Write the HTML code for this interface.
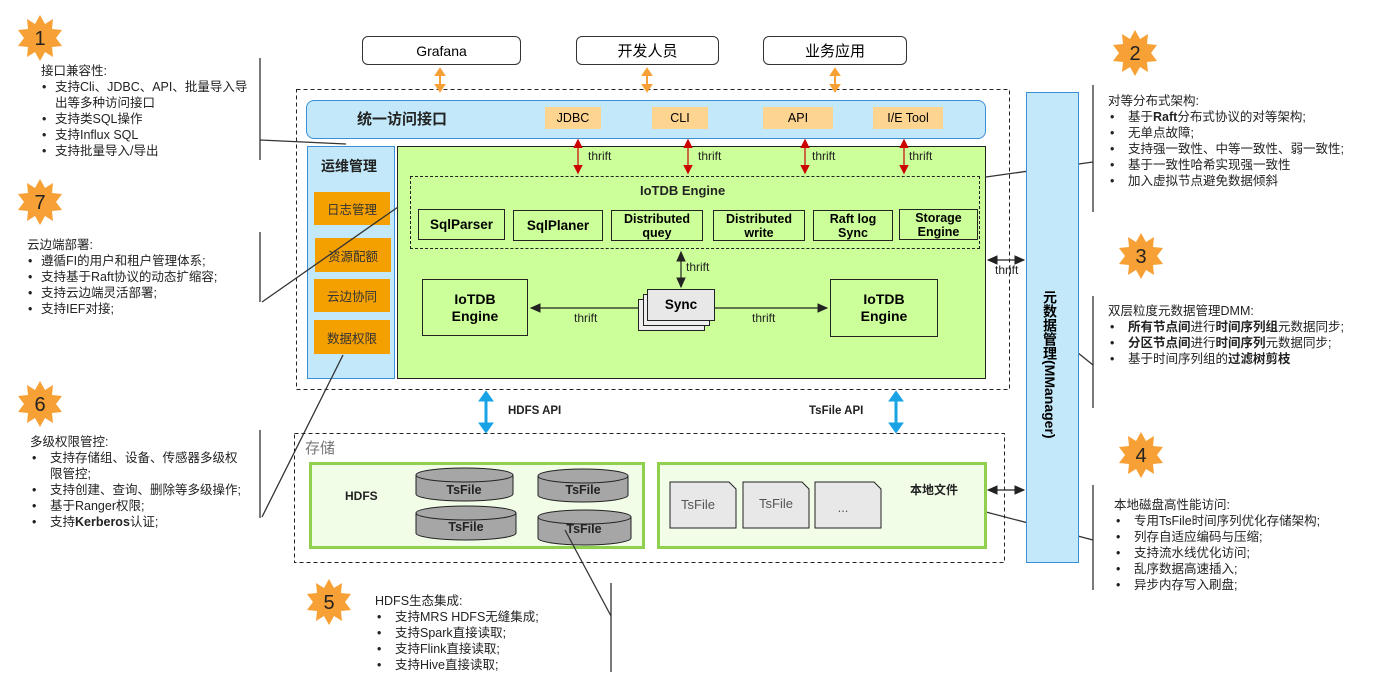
<!DOCTYPE html>
<html><head><meta charset="utf-8"><style>
body{margin:0;width:1381px;height:691px;background:#fff;position:relative;overflow:hidden;font-family:"Liberation Sans","Noto Sans CJK SC",sans-serif;}
.a{position:absolute;box-sizing:border-box;}
.c{display:flex;align-items:center;justify-content:center;text-align:center;}
.t{position:absolute;font-size:12.5px;line-height:16px;color:#222;white-space:nowrap;}
.t ul{margin:0;padding:0;list-style:none;}
.t li{position:relative;padding-left:20px;}
.t li:before{content:"•";position:absolute;left:2px;}
.L li{padding-left:14px;}
.L li:before{left:1px;}
.sb{border:1px solid #222;background:transparent;font-weight:bold;font-size:12.5px;line-height:14px;}
.or{background:#f4a000;color:#333;font-size:12.5px;}
.pe{background:#fdd591;font-size:12.5px;}
</style></head><body>
<svg class="a" style="left:0;top:0" width="1381" height="691">
<g fill="#f7a035">
<polygon id="st" points="0,-23 5,-14 13,-19 12,-9 22,-8 16,0 22,8 12,9 13,19 5,14 0,23 -5,14 -13,19 -12,9 -22,8 -16,0 -22,-8 -12,-9 -13,-19 -5,-14" transform="translate(40,38)"/>
<use href="#st" transform="translate(1095,15)"/>
<use href="#st" transform="translate(1101,218)"/>
<use href="#st" transform="translate(1101,417)"/>
<use href="#st" transform="translate(289,564)"/>
<use href="#st" transform="translate(0,366)"/>
<use href="#st" transform="translate(0,164)"/>
</g>
<g font-size="20" text-anchor="middle" fill="#222">
<text x="40" y="45">1</text><text x="1135" y="60">2</text><text x="1141" y="263">3</text><text x="1141" y="462">4</text><text x="329" y="609">5</text><text x="40" y="411">6</text><text x="40" y="209">7</text>
</g>
<rect x="296.5" y="89.5" width="713" height="300" fill="none" stroke="#222" stroke-dasharray="4,3"/>
<rect x="294.5" y="433.5" width="710" height="129" fill="none" stroke="#222" stroke-dasharray="4,3"/>
<g stroke="#f7a035" stroke-width="2" fill="#f7a035">
<line x1="440" y1="74" x2="440" y2="86"/><polygon points="436,75 444,75 440,69"/><polygon points="436,85 444,85 440,91"/>
<line x1="647" y1="74" x2="647" y2="86"/><polygon points="643,75 651,75 647,69"/><polygon points="643,85 651,85 647,91"/>
<line x1="835" y1="74" x2="835" y2="86"/><polygon points="831,75 839,75 835,69"/><polygon points="831,85 839,85 835,91"/>
</g>
<g stroke="#17a3e6" stroke-width="3" fill="#17a3e6">
<line x1="486" y1="400" x2="486" y2="424"/><polygon points="481,400 491,400 486,393"/><polygon points="481,424 491,424 486,431"/>
<line x1="896" y1="400" x2="896" y2="424"/><polygon points="891,400 901,400 896,393"/><polygon points="891,424 901,424 896,431"/>
</g>
<g stroke="#333" stroke-width="1.3" fill="none">
<line x1="260" y1="58" x2="260" y2="160"/>
<line x1="260" y1="232" x2="260" y2="302"/>
<line x1="260" y1="430" x2="260" y2="518"/>
<line x1="1093" y1="85" x2="1093" y2="212"/>
<line x1="1093" y1="296" x2="1093" y2="408"/>
<line x1="1093" y1="485" x2="1093" y2="590"/>
<line x1="611" y1="583" x2="611" y2="672"/>
<line x1="260" y1="140" x2="346" y2="144"/>
<line x1="986" y1="177" x2="1093" y2="162"/>
<line x1="1062" y1="340" x2="1093" y2="365"/>
<line x1="986" y1="512" x2="1093" y2="540"/>
</g>
</svg>
<div class="a c" style="left:362px;top:36px;width:159px;height:29px;border:1px solid #333;border-radius:6px;font-size:14px;">Grafana</div>
<div class="a c" style="left:576px;top:36px;width:143px;height:29px;border:1px solid #333;border-radius:6px;font-size:15px;">开发人员</div>
<div class="a c" style="left:763px;top:36px;width:144px;height:29px;border:1px solid #333;border-radius:6px;font-size:15px;">业务应用</div>
<div class="a" style="left:306px;top:100px;width:680px;height:39px;background:#c3e8f9;border:1px solid #3b8fd6;border-radius:8px;"></div>
<div class="t" style="left:357px;top:112px;font-size:15px;font-weight:bold;">统一访问接口</div>
<div class="a c pe" style="left:545px;top:107px;width:56px;height:22px;">JDBC</div>
<div class="a c pe" style="left:652px;top:107px;width:56px;height:22px;">CLI</div>
<div class="a c pe" style="left:763px;top:107px;width:70px;height:22px;">API</div>
<div class="a c pe" style="left:873px;top:107px;width:70px;height:22px;">I/E Tool</div>
<div class="a" style="left:307px;top:146px;width:88px;height:233px;background:#c3e8f9;border:1px solid #3b8fd6;"></div>
<div class="t" style="left:321px;top:158px;font-size:14px;font-weight:bold;">运维管理</div>
<div class="a c or" style="left:314px;top:192px;width:76px;height:33px;">日志管理</div>
<div class="a c or" style="left:315px;top:238px;width:76px;height:34px;">资源配额</div>
<div class="a c or" style="left:314px;top:279px;width:76px;height:33px;">云边协同</div>
<div class="a c or" style="left:314px;top:320px;width:76px;height:34px;">数据权限</div>
<div class="a" style="left:397px;top:146px;width:589px;height:233px;background:#ccff99;border:1px solid #222;"></div>
<div class="a" style="left:410px;top:176px;width:570px;height:73px;border:1px dashed #222;"></div>
<div class="t" style="left:640px;top:183px;font-size:13px;font-weight:bold;">IoTDB Engine</div>
<div class="a c sb" style="left:418px;top:209px;width:87px;height:31px;font-size:13.5px;">SqlParser</div>
<div class="a c sb" style="left:513px;top:210px;width:90px;height:31px;font-size:13.5px;">SqlPlaner</div>
<div class="a c sb" style="left:611px;top:210px;width:92px;height:31px;">Distributed<br>quey</div>
<div class="a c sb" style="left:713px;top:210px;width:92px;height:31px;">Distributed<br>write</div>
<div class="a c sb" style="left:813px;top:210px;width:80px;height:31px;">Raft log<br>Sync</div>
<div class="a c sb" style="left:899px;top:209px;width:79px;height:31px;">Storage<br>Engine</div>
<div class="a c sb" style="left:422px;top:279px;width:106px;height:57px;font-size:14px;line-height:17px;">IoTDB<br>Engine</div>
<div class="a c sb" style="left:830px;top:279px;width:108px;height:58px;font-size:14px;line-height:17px;">IoTDB<br>Engine</div>
<div class="a" style="left:638px;top:299px;width:67px;height:32px;background:#eee;border:1px solid #222;"></div>
<div class="a" style="left:643px;top:294px;width:67px;height:32px;background:#eee;border:1px solid #222;"></div>
<div class="a c sb" style="left:647px;top:289px;width:68px;height:32px;background:#e8e8e8;font-size:13.5px;">Sync</div>
<div class="a" style="left:1026px;top:92px;width:53px;height:471px;background:#c3e8f9;border:1px solid #3b8fd6;"></div>
<div class="a" style="left:1040px;top:290px;writing-mode:vertical-rl;font-size:14px;font-weight:bold;line-height:20px;white-space:nowrap;">元数据管理(MManager)</div>
<div class="t" style="left:305px;top:441px;font-size:15px;color:#777;">存储</div>
<div class="a" style="left:309px;top:462px;width:336px;height:87px;background:#f2fde8;border:3px solid #8fd14f;"></div>
<div class="a" style="left:657px;top:462px;width:330px;height:87px;background:#f2fde8;border:3px solid #8fd14f;"></div>
<div class="t" style="left:345px;top:488px;font-weight:bold;font-size:12px;">HDFS</div>
<div class="t" style="left:910px;top:482px;font-weight:bold;font-size:12px;">本地文件</div>
<svg class="a" style="left:0;top:0" width="1381" height="691">
<defs>
<marker id="r" markerWidth="8" markerHeight="8" refX="6" refY="4" orient="auto-start-reverse"><path d="M0,0 L8,4 L0,8z" fill="#c00"/></marker>
<marker id="k" markerWidth="10" markerHeight="10" refX="8" refY="5" orient="auto-start-reverse"><path d="M0,1 L9,5 L0,9z" fill="#222"/></marker>
</defs>
<g stroke="#222" fill="#a6a6a6">
<path d="M416,475 v19 a48.5,7 0 0 0 97,0 v-19"/><ellipse cx="464.5" cy="475" rx="48.5" ry="7"/>
<path d="M538,476 v19 a45,7 0 0 0 90,0 v-19"/><ellipse cx="583" cy="476" rx="45" ry="7"/>
<path d="M416,513 v20 a50,7 0 0 0 100,0 v-20"/><ellipse cx="466" cy="513" rx="50" ry="7"/>
<path d="M538,517 v21 a46.5,7 0 0 0 93,0 v-21"/><ellipse cx="584.5" cy="517" rx="46.5" ry="7"/>
</g>
<g stroke="#222" fill="#e8e8e8">
<path d="M670,482 h59 l7,7 v39 h-66z"/><path d="M743,482 h59 l7,7 v39 h-66z"/><path d="M815,482 h59 l7,7 v39 h-66z"/>
</g>
<g font-size="12.5" font-weight="bold" text-anchor="middle" fill="#222">
<text x="464" y="494">TsFile</text><text x="583" y="494">TsFile</text><text x="466" y="531">TsFile</text><text x="584" y="533">TsFile</text>
</g>
<g font-size="13" text-anchor="middle" fill="#555"><text x="698" y="509">TsFile</text><text x="776" y="508">TsFile</text><text x="843" y="512">...</text></g>
<g stroke="#333" stroke-width="1.3">
<line x1="262" y1="302" x2="398" y2="207"/>
<line x1="262" y1="517" x2="343" y2="355"/>
<line x1="565" y1="530" x2="611" y2="616"/>
</g>
<g stroke="#c00" stroke-width="1.2">
<line x1="578" y1="141" x2="578" y2="172" marker-start="url(#r)" marker-end="url(#r)"/>
<line x1="688" y1="141" x2="688" y2="172" marker-start="url(#r)" marker-end="url(#r)"/>
<line x1="805" y1="141" x2="805" y2="172" marker-start="url(#r)" marker-end="url(#r)"/>
<line x1="904" y1="141" x2="904" y2="172" marker-start="url(#r)" marker-end="url(#r)"/>
</g>
<g stroke="#222" stroke-width="1.2">
<line x1="681" y1="252" x2="681" y2="287" marker-start="url(#k)" marker-end="url(#k)"/>
<line x1="638" y1="308" x2="531" y2="308" marker-end="url(#k)"/>
<line x1="715" y1="308" x2="827" y2="308" marker-end="url(#k)"/>
<line x1="988" y1="260" x2="1024" y2="260" marker-start="url(#k)" marker-end="url(#k)"/>
<line x1="988" y1="490" x2="1024" y2="490" marker-start="url(#k)" marker-end="url(#k)"/>
</g>
<g font-size="12" fill="#222">
<text x="588" y="160">thrift</text><text x="698" y="160">thrift</text><text x="812" y="160">thrift</text><text x="909" y="160">thrift</text>
<text x="686" y="271">thrift</text><text x="574" y="322">thrift</text><text x="752" y="322">thrift</text><text x="995" y="274">thrift</text>
<text x="508" y="414" font-weight="bold" font-size="11.5">HDFS API</text><text x="809" y="414" font-weight="bold" font-size="11.5">TsFile API</text>
</g>
</svg>
<div class="t L" style="left:41px;top:63px;">接口兼容性:<ul><li>支持Cli、JDBC、API、批量导入导<br>出等多种访问接口</li><li>支持类SQL操作</li><li>支持Influx SQL</li><li>支持批量导入/导出</li></ul></div>
<div class="t L" style="left:27px;top:237px;">云边端部署:<ul><li>遵循FI的用户和租户管理体系;</li><li>支持基于Raft协议的动态扩缩容;</li><li>支持云边端灵活部署;</li><li>支持IEF对接;</li></ul></div>
<div class="t" style="left:30px;top:434px;">多级权限管控:<ul><li>支持存储组、设备、传感器多级权<br>限管控;</li><li>支持创建、查询、删除等多级操作;</li><li>基于Ranger权限;</li><li>支持<b>Kerberos</b>认证;</li></ul></div>
<div class="t" style="left:1108px;top:93px;">对等分布式架构:<ul><li>基于<b>Raft</b>分布式协议的对等架构;</li><li>无单点故障;</li><li>支持强一致性、中等一致性、弱一致性;</li><li>基于一致性哈希实现强一致性</li><li>加入虚拟节点避免数据倾斜</li></ul></div>
<div class="t" style="left:1108px;top:303px;">双层粒度元数据管理DMM:<ul><li><b>所有节点间</b>进行<b>时间序列组</b>元数据同步;</li><li><b>分区节点间</b>进行<b>时间序列</b>元数据同步;</li><li>基于时间序列组的<b>过滤树剪枝</b></li></ul></div>
<div class="t" style="left:1114px;top:497px;">本地磁盘高性能访问:<ul><li>专用TsFile时间序列优化存储架构;</li><li>列存自适应编码与压缩;</li><li>支持流水线优化访问;</li><li>乱序数据高速插入;</li><li>异步内存写入刷盘;</li></ul></div>
<div class="t" style="left:375px;top:593px;">HDFS生态集成:<ul><li>支持MRS HDFS无缝集成;</li><li>支持Spark直接读取;</li><li>支持Flink直接读取;</li><li>支持Hive直接读取;</li></ul></div>
</body></html>
